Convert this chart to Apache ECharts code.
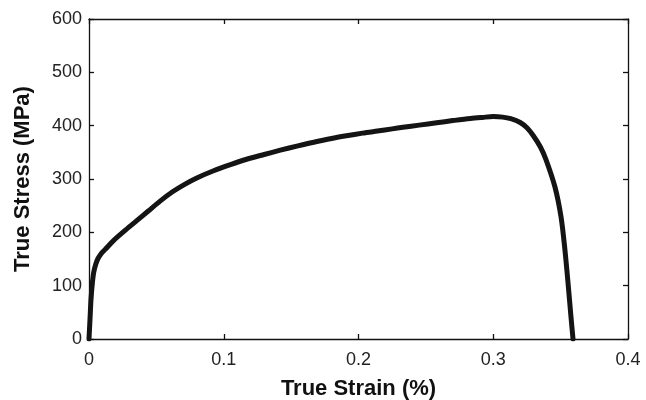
<!DOCTYPE html>
<html>
<head>
<meta charset="utf-8">
<script src="https://cdn.jsdelivr.net/npm/echarts@6/dist/echarts.min.js"></script>
<style>html,body{margin:0;padding:0;background:#fff}#c{width:646px;height:400px}</style>
</head>
<body>
<div id="c"></div>
<script>
var strain = [0, 0.0008, 0.0015, 0.0025, 0.0035, 0.005, 0.0065, 0.009, 0.012, 0.018, 0.027, 0.035, 0.044, 0.053, 0.062, 0.071, 0.08, 0.092, 0.105, 0.117, 0.13, 0.142, 0.155, 0.166, 0.18, 0.191, 0.203, 0.214, 0.225, 0.233, 0.245, 0.258, 0.27, 0.283, 0.292, 0.3, 0.307, 0.313, 0.32, 0.325, 0.3295, 0.335, 0.3392, 0.3458, 0.3503, 0.3532, 0.3555, 0.3577, 0.3592];
var stress = [0, 40, 75, 105, 125, 140, 150, 160, 168, 184, 204, 221, 240, 259, 276, 290, 302, 315, 327, 337, 346, 354, 362, 368.5, 376, 381, 386, 390, 394, 397, 401, 405.5, 409.5, 413.5, 415.5, 417, 416, 413, 406, 396, 382, 360, 336, 285, 229, 167, 105, 41, 0];
var xTicks = [0, 0.1, 0.2, 0.3, 0.4];
var yTicks = [0, 100, 200, 300, 400, 500, 600];
var xName = 'True Strain (%)';
var yName = 'True Stress (MPa)';

var data = strain.map(function (s, i) { return [s, stress[i]]; });
var font = 'Liberation Sans, Arial, Helvetica, sans-serif';
var chart = echarts.init(document.getElementById('c'), null, {renderer: 'canvas'});
var lineStyle = {color: '#111', width: 1.3};
function fmt(v) { return String(v); }
chart.setOption({
  animation: false,
  backgroundColor: '#fff',
  grid: {left: 89, right: 18, top: 19, bottom: 61, containLabel: false, outerBoundsMode: 'none'},
  xAxis: [{
    type: 'value', min: xTicks[0], max: xTicks[xTicks.length - 1], interval: 0.1,
    position: 'bottom',
    name: xName, nameLocation: 'middle', nameGap: 39,
    nameTextStyle: {fontFamily: font, fontSize: 22, fontWeight: 'bold', color: '#111'},
    axisLine: {show: true, onZero: false, lineStyle: lineStyle},
    axisTick: {show: true, inside: true, length: 5, lineStyle: lineStyle},
    axisLabel: {fontFamily: font, fontSize: 18, color: '#222', margin: 12, formatter: fmt},
    splitLine: {show: false}
  }, {
    type: 'value', min: xTicks[0], max: xTicks[xTicks.length - 1], interval: 0.1,
    position: 'top',
    axisLine: {show: true, onZero: false, lineStyle: lineStyle},
    axisTick: {show: true, inside: true, length: 5, lineStyle: lineStyle},
    axisLabel: {show: false},
    splitLine: {show: false}
  }],
  yAxis: [{
    type: 'value', min: yTicks[0], max: yTicks[yTicks.length - 1], interval: 100,
    position: 'left',
    name: yName, nameLocation: 'middle', nameGap: 55,
    nameTextStyle: {fontFamily: font, fontSize: 22, fontWeight: 'bold', color: '#111'},
    axisLine: {show: true, onZero: false, lineStyle: lineStyle},
    axisTick: {show: true, inside: true, length: 5, lineStyle: lineStyle},
    axisLabel: {fontFamily: font, fontSize: 18, color: '#222', margin: 7, formatter: fmt},
    splitLine: {show: false}
  }, {
    type: 'value', min: yTicks[0], max: yTicks[yTicks.length - 1], interval: 100,
    position: 'right',
    axisLine: {show: true, onZero: false, lineStyle: lineStyle},
    axisTick: {show: true, inside: true, length: 5, lineStyle: lineStyle},
    axisLabel: {show: false},
    splitLine: {show: false}
  }],
  series: [{
    type: 'line',
    xAxisIndex: 0, yAxisIndex: 0,
    data: data,
    showSymbol: false,
    smooth: 0.3,
    lineStyle: {color: '#141414', width: 5, cap: 'round', join: 'round'},
    z: 3
  }]
});
</script>
</body>
</html>
